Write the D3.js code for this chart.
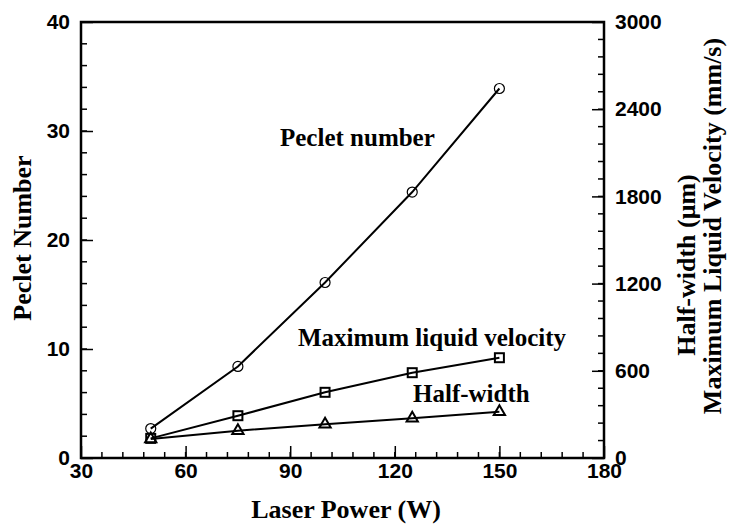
<!DOCTYPE html>
<html><head><meta charset="utf-8">
<script src="https://cdn.jsdelivr.net/npm/d3@7"></script>
<style>body{margin:0;background:#fff}svg{display:block}</style>
</head><body>
<script>
const laserPower = [50, 75, 100, 125, 150];
const pecletNumber = [2.7, 8.4, 16.1, 24.4, 33.9];
const maxVelocity = [135, 291, 452, 587, 690];
const halfWidth = [130, 188, 232, 273, 319];
const xTicks = [30, 60, 90, 120, 150, 180];
const yLeftTicks = [0, 10, 20, 30, 40];
const yRightTicks = [0, 600, 1200, 1800, 2400, 3000];

const W = 731, H = 525;
const m = {l: 81, r: 604, t: 22, b: 458};
const svg = d3.select("body").append("svg").attr("width", W).attr("height", H);

const x = d3.scaleLinear().domain([30, 180]).range([m.l, m.r]);
const yL = d3.scaleLinear().domain([0, 40]).range([m.b, m.t]);
const yR = d3.scaleLinear().domain([0, 3000]).range([m.b, m.t]);

const tickFont = "'Liberation Sans', Arial, sans-serif";
const serif = "'Liberation Serif', 'Times New Roman', serif";

function minor(scale, step, orient, len) {
  const [a, b] = scale.domain();
  const vals = d3.range(a, b + 1e-9, step);
  const g = svg.append("g");
  vals.forEach(v => {
    const p = scale(v);
    if (orient === "bottom") g.append("line").attr("x1", p).attr("x2", p).attr("y1", m.b).attr("y2", m.b - len);
    if (orient === "left") g.append("line").attr("y1", p).attr("y2", p).attr("x1", m.l).attr("x2", m.l + len);
    if (orient === "right") g.append("line").attr("y1", p).attr("y2", p).attr("x1", m.r).attr("x2", m.r - len);
  });
  g.selectAll("line").attr("stroke", "#000").attr("stroke-width", 1.5);
}
minor(x, 6, "bottom", 6);
minor(yL, 2, "left", 6);
minor(yR, 120, "right", 6);

const gx = svg.append("g").attr("transform", `translate(0,${m.b})`)
  .call(d3.axisBottom(x).tickValues(xTicks).tickFormat(d3.format("d")).tickSizeInner(-12).tickSizeOuter(0).tickPadding(5));
const gl = svg.append("g").attr("transform", `translate(${m.l},0)`)
  .call(d3.axisLeft(yL).tickValues(yLeftTicks).tickFormat(d3.format("d")).tickSizeInner(-12).tickSizeOuter(0).tickPadding(11));
const gr = svg.append("g").attr("transform", `translate(${m.r},0)`)
  .call(d3.axisRight(yR).tickValues(yRightTicks).tickFormat(d3.format("d")).tickSizeInner(-12).tickSizeOuter(0).tickPadding(11));
[gx, gl, gr].forEach(g => {
  g.selectAll(".domain").remove();
  g.selectAll(".tick line").attr("stroke", "#000").attr("stroke-width", 1.5);
  g.selectAll(".tick text").attr("font-family", tickFont).attr("font-weight", "bold")
    .attr("font-size", 21).attr("fill", "#000");
});

svg.append("rect").attr("x", m.l).attr("y", m.t).attr("width", m.r - m.l).attr("height", m.b - m.t)
  .attr("fill", "none").attr("stroke", "#000").attr("stroke-width", 2.5);

const lineL = d3.line().x((d, i) => x(laserPower[i])).y(d => yL(d));
const lineR = d3.line().x((d, i) => x(laserPower[i])).y(d => yR(d));
svg.append("path").datum(pecletNumber).attr("d", lineL).attr("fill", "none").attr("stroke", "#000").attr("stroke-width", 2);
svg.append("path").datum(maxVelocity).attr("d", lineR).attr("fill", "none").attr("stroke", "#000").attr("stroke-width", 2);
svg.append("path").datum(halfWidth).attr("d", lineR).attr("fill", "none").attr("stroke", "#000").attr("stroke-width", 2);

svg.append("g").selectAll("circle").data(pecletNumber).join("circle")
  .attr("cx", (d, i) => x(laserPower[i])).attr("cy", d => yL(d)).attr("r", 5)
  .attr("fill", "none").attr("stroke", "#000").attr("stroke-width", 1.2);
svg.append("g").selectAll("rect").data(maxVelocity).join("rect")
  .attr("x", (d, i) => x(laserPower[i]) - 4.5).attr("y", d => yR(d) - 4.5).attr("width", 9).attr("height", 9)
  .attr("fill", "none").attr("stroke", "#000").attr("stroke-width", 2);
const tri = d3.symbol().type(d3.symbolTriangle).size(55);
svg.append("g").selectAll("path").data(halfWidth).join("path")
  .attr("transform", (d, i) => `translate(${x(laserPower[i])},${yR(d)})`).attr("d", tri)
  .attr("fill", "none").attr("stroke", "#000").attr("stroke-width", 2);

const ann = [["Peclet number", 280, 146], ["Maximum liquid velocity", 298, 346], ["Half-width", 413, 402]];
svg.append("g").selectAll("text").data(ann).join("text")
  .attr("x", d => d[1]).attr("y", d => d[2]).text(d => d[0])
  .attr("font-family", serif).attr("font-weight", "bold").attr("font-size", 25).attr("fill", "#000");

svg.append("text").attr("x", 346).attr("y", 518).attr("text-anchor", "middle")
  .attr("font-family", serif).attr("font-weight", "bold").attr("font-size", 26).text("Laser Power (W)");
svg.append("text").attr("transform", "translate(31,238) rotate(-90)").attr("text-anchor", "middle")
  .attr("font-family", serif).attr("font-weight", "bold").attr("font-size", 26).text("Peclet Number");
svg.append("text").attr("transform", "translate(695,265) rotate(-90)").attr("text-anchor", "middle")
  .attr("font-family", serif).attr("font-weight", "bold").attr("font-size", 26).text("Half-width (\u03bcm)");
svg.append("text").attr("transform", "translate(721,226) rotate(-90)").attr("text-anchor", "middle")
  .attr("font-family", serif).attr("font-weight", "bold").attr("font-size", 26).text("Maximum Liquid Velocity (mm/s)");
</script>
</body></html>
